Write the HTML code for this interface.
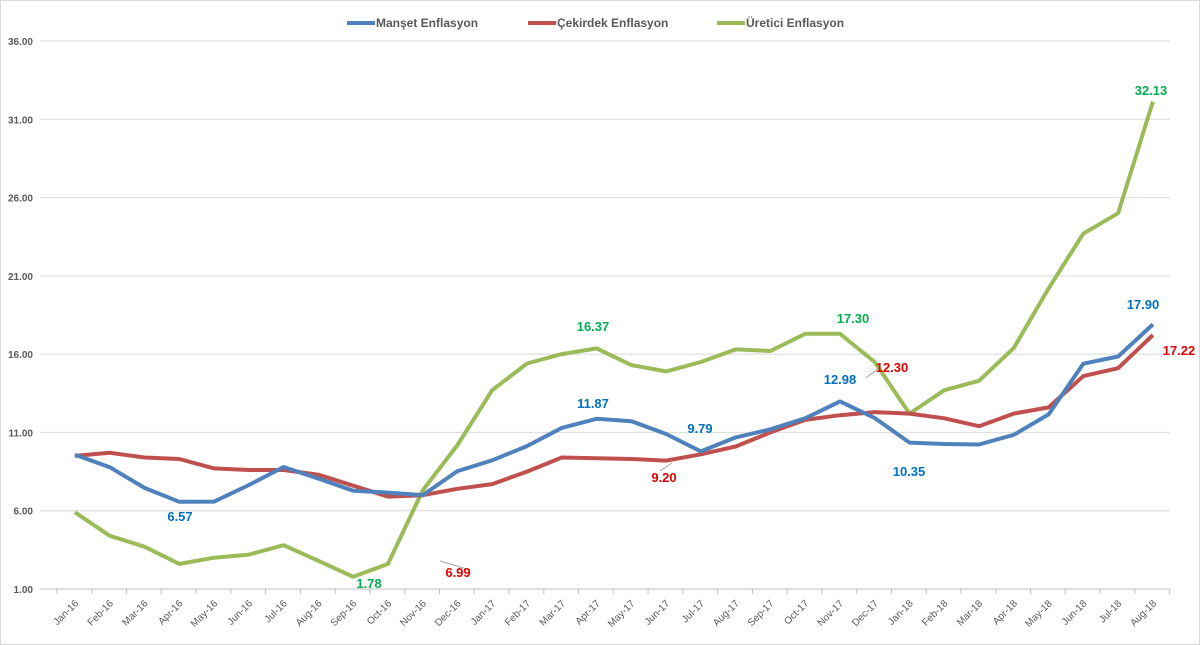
<!DOCTYPE html><html><head><meta charset="utf-8"><style>body{margin:0;background:#fff}svg{display:block;font-family:"Liberation Sans",sans-serif}</style></head><body>
<svg width="1200" height="645" viewBox="0 0 1200 645" xmlns="http://www.w3.org/2000/svg">
<rect x="0.5" y="0.5" width="1199" height="644" fill="#fff" stroke="#d9d9d9"/>
<g stroke="#d9d9d9" stroke-width="1">
<line x1="40" y1="41" x2="1170" y2="41"/><line x1="40" y1="119.3" x2="1170" y2="119.3"/><line x1="40" y1="197.6" x2="1170" y2="197.6"/><line x1="40" y1="275.9" x2="1170" y2="275.9"/><line x1="40" y1="354.1" x2="1170" y2="354.1"/><line x1="40" y1="432.4" x2="1170" y2="432.4"/><line x1="40" y1="510.7" x2="1170" y2="510.7"/>
</g>
<line x1="40" y1="589" x2="1170" y2="589" stroke="#bfbfbf"/>
<path stroke="#bfbfbf" d="M57 589v5M91.8 589v5M126.5 589v5M161.3 589v5M196.1 589v5M230.9 589v5M265.6 589v5M300.4 589v5M335.2 589v5M370 589v5M404.7 589v5M439.5 589v5M474.2 589v5M509 589v5M543.8 589v5M578.6 589v5M613.3 589v5M648.1 589v5M682.9 589v5M717.7 589v5M752.4 589v5M787.2 589v5M822 589v5M856.7 589v5M891.5 589v5M926.3 589v5M961 589v5M995.8 589v5M1030.6 589v5M1065.3 589v5M1100.1 589v5M1134.9 589v5M1169.6 589v5"/>
<g font-size="10" font-weight="bold" fill="#595959" text-anchor="end">
<text x="33" y="45">36.00</text><text x="33" y="123.3">31.00</text><text x="33" y="201.6">26.00</text><text x="33" y="279.9">21.00</text><text x="33" y="358.1">16.00</text><text x="33" y="436.4">11.00</text><text x="33" y="514.7">6.00</text><text x="33" y="593">1.00</text>
</g>
<g font-size="10" fill="#595959" text-anchor="end">
<text transform="translate(79,604) rotate(-45)">Jan-16</text>
<text transform="translate(113.8,604) rotate(-45)">Feb-16</text>
<text transform="translate(148.5,604) rotate(-45)">Mar-16</text>
<text transform="translate(183.3,604) rotate(-45)">Apr-16</text>
<text transform="translate(218.1,604) rotate(-45)">May-16</text>
<text transform="translate(252.9,604) rotate(-45)">Jun-16</text>
<text transform="translate(287.6,604) rotate(-45)">Jul-16</text>
<text transform="translate(322.4,604) rotate(-45)">Aug-16</text>
<text transform="translate(357.2,604) rotate(-45)">Sep-16</text>
<text transform="translate(392,604) rotate(-45)">Oct-16</text>
<text transform="translate(426.7,604) rotate(-45)">Nov-16</text>
<text transform="translate(461.5,604) rotate(-45)">Dec-16</text>
<text transform="translate(496.2,604) rotate(-45)">Jan-17</text>
<text transform="translate(531,604) rotate(-45)">Feb-17</text>
<text transform="translate(565.8,604) rotate(-45)">Mar-17</text>
<text transform="translate(600.6,604) rotate(-45)">Apr-17</text>
<text transform="translate(635.3,604) rotate(-45)">May-17</text>
<text transform="translate(670.1,604) rotate(-45)">Jun-17</text>
<text transform="translate(704.9,604) rotate(-45)">Jul-17</text>
<text transform="translate(739.7,604) rotate(-45)">Aug-17</text>
<text transform="translate(774.4,604) rotate(-45)">Sep-17</text>
<text transform="translate(809.2,604) rotate(-45)">Oct-17</text>
<text transform="translate(844,604) rotate(-45)">Nov-17</text>
<text transform="translate(878.7,604) rotate(-45)">Dec-17</text>
<text transform="translate(913.5,604) rotate(-45)">Jan-18</text>
<text transform="translate(948.3,604) rotate(-45)">Feb-18</text>
<text transform="translate(983,604) rotate(-45)">Mar-18</text>
<text transform="translate(1017.8,604) rotate(-45)">Apr-18</text>
<text transform="translate(1052.6,604) rotate(-45)">May-18</text>
<text transform="translate(1087.3,604) rotate(-45)">Jun-18</text>
<text transform="translate(1122.1,604) rotate(-45)">Jul-18</text>
<text transform="translate(1156.9,604) rotate(-45)">Aug-18</text>
</g>
<g fill="none" stroke-width="4" stroke-linejoin="round">
<polyline stroke="#9bbb59" points="75,512.3 109.8,535.8 144.5,546.7 179.3,563.9 214.1,557.7 248.9,554.6 283.6,545.2 318.4,560.8 353.2,576.8 388,563.9 422.7,490.4 457.5,445 492.2,390.2 527,363.5 561.8,354.1 596.6,348.4 631.3,365.1 666.1,371.4 700.9,362 735.7,349.4 770.4,351 805.2,333.8 840,333.8 874.7,362 909.5,413.6 944.3,390.2 979,380.8 1013.8,347.9 1048.6,288.4 1083.3,233.6 1118.1,213.2 1152.9,101.6"/>
<polyline stroke="#c0504d" points="75,455.9 109.8,452.8 144.5,457.5 179.3,459 214.1,468.4 248.9,470 283.6,470 318.4,474.7 353.2,485.7 388,496.6 422.7,495.2 457.5,488.8 492.2,484.1 527,471.6 561.8,457.5 596.6,458.3 631.3,459 666.1,460.6 700.9,454.3 735.7,446.5 770.4,432.4 805.2,419.9 840,415.2 874.7,412.1 909.5,413.6 944.3,418.3 979,426.2 1013.8,413.6 1048.6,407.4 1083.3,376.1 1118.1,368.2 1152.9,335"/>
<polyline stroke="#4f81bd" points="75,454.7 109.8,467.2 144.5,487.9 179.3,501.8 214.1,501.6 248.9,485 283.6,467 318.4,478.6 353.2,490.7 388,492.6 422.7,495.1 457.5,471.1 492.2,460.3 527,446.1 561.8,427.9 596.6,418.8 631.3,421.2 666.1,434 700.9,451.4 735.7,437.4 770.4,429.3 805.2,418.3 840,401.4 874.7,418 909.5,442.6 944.3,444 979,444.5 1013.8,434.8 1048.6,414.4 1083.3,363.7 1118.1,356.5 1152.9,324.4"/>
</g>
<g font-size="12" font-weight="bold" fill="#595959">
<line x1="347" y1="23" x2="375" y2="23" stroke="#4f81bd" stroke-width="4"/><text x="376" y="27">Manşet Enflasyon</text>
<line x1="528" y1="23" x2="556" y2="23" stroke="#c0504d" stroke-width="4"/><text x="557" y="27">Çekirdek Enflasyon</text>
<line x1="717" y1="23" x2="745" y2="23" stroke="#9bbb59" stroke-width="4"/><text x="746" y="27">Üretici Enflasyon</text>
</g>
<g stroke="#a6a6a6" stroke-width="1"><line x1="470" y1="570" x2="440" y2="561"/><line x1="660" y1="471" x2="672" y2="463"/><line x1="866" y1="378" x2="880" y2="367"/></g>
<g font-size="13" font-weight="bold" text-anchor="middle">
<g fill="#0070c0"><text x="180" y="521">6.57</text><text x="593" y="408">11.87</text><text x="700" y="433">9.79</text><text x="840" y="384">12.98</text><text x="909" y="476">10.35</text><text x="1143" y="309">17.90</text></g>
<g fill="#e00000"><text x="458" y="577">6.99</text><text x="664" y="482">9.20</text><text x="892" y="372">12.30</text><text x="1179" y="355">17.22</text></g>
<g fill="#00b050"><text x="369" y="588">1.78</text><text x="593" y="331">16.37</text><text x="853" y="323">17.30</text><text x="1151" y="95">32.13</text></g>
</g>
</svg></body></html>
